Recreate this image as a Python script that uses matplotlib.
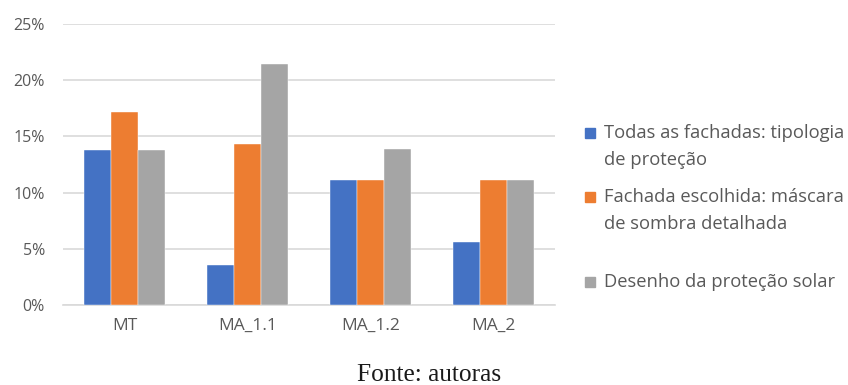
import matplotlib
matplotlib.use("Agg")
import matplotlib.pyplot as plt
import numpy as np
from matplotlib.patches import Rectangle

categories = ["MT", "MA_1.1", "MA_1.2", "MA_2"]
series_names = [
    "Todas as fachadas: tipologia\nde proteção",
    "Fachada escolhida: máscara\nde sombra detalhada",
    "Desenho da proteção solar",
]
todas = [13.8, 3.6, 11.1, 5.6]
fachada = [17.2, 14.3, 11.1, 11.1]
desenho = [13.8, 21.4, 13.9, 11.1]
yticks = [0, 5, 10, 15, 20, 25]
ytick_labels = ["0%", "5%", "10%", "15%", "20%", "25%"]
caption = "Fonte: autoras"

colors = ["#4472C4", "#ED7D31", "#A5A5A5"]
txt_color = "#595959"
font = "Open Sans"

W, H = 848, 385
fig = plt.figure(figsize=(W / 100, H / 100), dpi=100)
ax = fig.add_axes([63 / W, 1 - 305 / H, (555 - 63) / W, (305 - 24) / H])

x = np.arange(len(categories))
bw = 0.222
for i, (vals, c) in enumerate(zip([todas, fachada, desenho], colors)):
    ax.bar(x + (i - 1) * bw, vals, width=bw, color=c, zorder=3,
           edgecolor="white", linewidth=0.3)

ax.set_xlim(-0.5, len(categories) - 0.5)
ax.set_ylim(0, 25)
ax.set_yticks(yticks)
ax.set_yticklabels(ytick_labels)
ax.set_xticks(x)
ax.set_xticklabels(categories)
ax.grid(axis="y", color="#D9D9D9", linewidth=1.2, zorder=0)
for s in ["top", "right", "left"]:
    ax.spines[s].set_visible(False)
ax.spines["bottom"].set_color("#D9D9D9")
ax.spines["bottom"].set_linewidth(1.2)
ax.tick_params(axis="both", length=0, labelcolor=txt_color)
ax.tick_params(axis="y", pad=13, labelsize=11.5)
ax.tick_params(axis="x", pad=9, labelsize=12.5)
for lab in ax.get_xticklabels() + ax.get_yticklabels():
    lab.set_fontfamily(font)

# legend (manual, first-line aligned swatches)
entry_tops = [133, 197, 282]
line_gap = 27
for name, c, ytop in zip(series_names, colors, entry_tops):
    lines = name.split("\n")
    fig.patches.append(Rectangle((585 / W, 1 - (ytop + 5) / H), 10 / W, 10 / H,
                                 transform=fig.transFigure, color=c, figure=fig))
    for k, ln in enumerate(lines):
        fig.text(604 / W, 1 - (ytop + k * line_gap) / H, ln, ha="left", va="center",
                 fontsize=13.2, color=txt_color, family=font)

fig.text(429 / W, 1 - 375 / H, caption, ha="center", va="center",
         fontsize=18.3, color="#1a1a1a", family="Liberation Serif")

fig.savefig("out.png", dpi=100)
